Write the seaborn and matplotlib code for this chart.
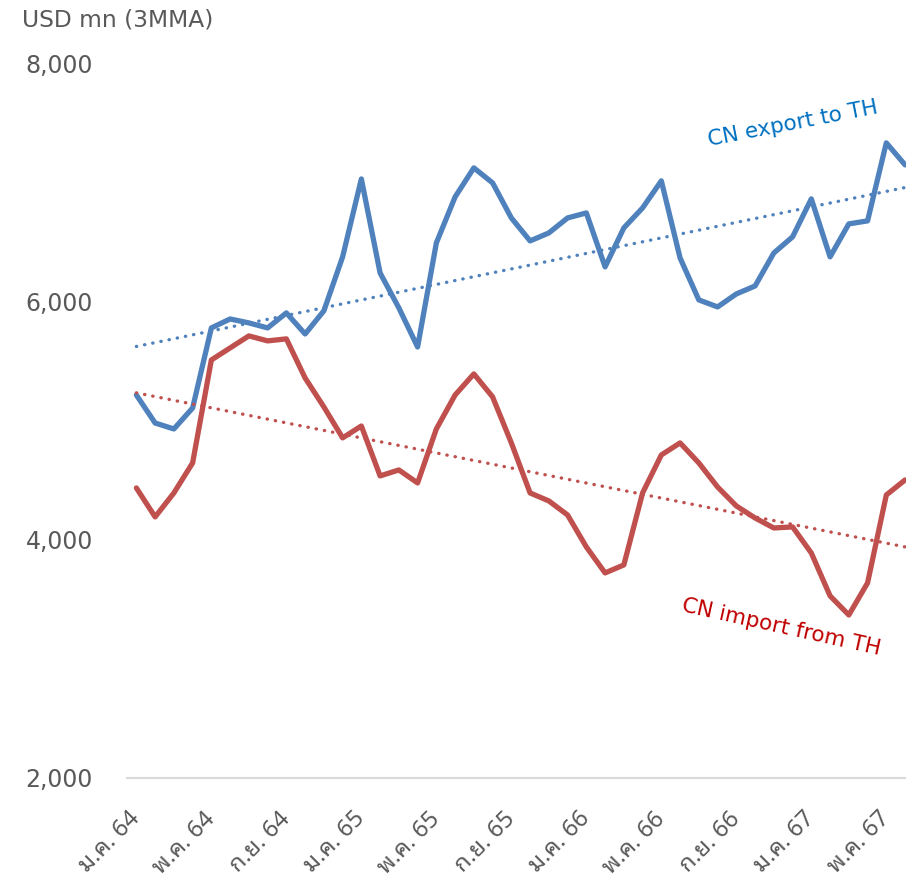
import matplotlib
matplotlib.use("Agg")
import matplotlib.pyplot as plt
import seaborn as sns
import numpy as np
import pandas as pd

# ---- data ----
export_to_th = [5214, 4979, 4929, 5105, 5777, 5852, 5819, 5777, 5903, 5726,
                5920, 6373, 7027, 6238, 5945, 5617, 6490, 6876, 7120, 6994,
                6700, 6507, 6574, 6700, 6742, 6289, 6616, 6784, 7011, 6364,
                6012, 5953, 6062, 6129, 6406, 6541, 6860, 6373, 6650, 6675,
                7330, 7145]
import_from_th = [4434, 4191, 4392, 4644, 5508, 5609, 5710, 5668, 5685, 5357,
                  5114, 4854, 4954, 4535, 4585, 4476, 4929, 5214, 5391, 5198,
                  4812, 4392, 4325, 4207, 3939, 3721, 3788, 4392, 4711, 4812,
                  4644, 4442, 4283, 4182, 4098, 4107, 3888, 3528, 3368, 3637,
                  4375, 4501]
tick_labels = ["ม.ค. 64", "พ.ค. 64", "ก.ย. 64", "ม.ค. 65", "พ.ค. 65", "ก.ย. 65",
               "ม.ค. 66", "พ.ค. 66", "ก.ย. 66", "ม.ค. 67", "พ.ค. 67"]
y_ticks = [2000, 4000, 6000, 8000]

sns.set_theme(style="white")
plt.rcParams["font.family"] = ["DejaVu Sans"]

months = np.arange(len(export_to_th))
df = pd.DataFrame({"m": months, "exp": export_to_th, "imp": import_from_th})

BLUE = "#4F81BD"
RED = "#C0504D"
GRAY = "#595959"

fig = plt.figure(figsize=(9.06, 8.83), dpi=100)
ax = fig.add_axes([127/906, 1-778/883, 1-127/906, (778-63)/883])

sns.lineplot(data=df, x="m", y="exp", ax=ax, color=BLUE, lw=3.8)
sns.lineplot(data=df, x="m", y="imp", ax=ax, color=RED, lw=3.8)
for col, c in (("exp", BLUE), ("imp", RED)):
    sns.regplot(data=df, x="m", y=col, ax=ax, scatter=False, ci=None,
                truncate=True,
                line_kws=dict(color=c, lw=2.4, linestyle=(0, (0.1, 2.4)),
                              dash_capstyle="round"))

ax.set_xlim(-0.5, 41.05)
ax.set_ylim(2000, 8000)
ax.set_xticks(range(0, 41, 4))
ax.set_xticklabels(tick_labels, rotation=45, ha="right", va="center",
                   rotation_mode="anchor", fontsize=17, color=GRAY,
                   family=["Noto Sans Thai Looped", "DejaVu Sans"])
ax.tick_params(axis="x", length=0, pad=27)
ax.set_yticks(y_ticks)
ax.set_yticklabels([f"{v:,}" for v in y_ticks], fontsize=17, color=GRAY)
ax.tick_params(axis="y", length=0, pad=24.5)
ax.set_xlabel("")
ax.set_ylabel("")
for s in ("top", "right", "left"):
    ax.spines[s].set_visible(False)
ax.spines["bottom"].set_color("#D9D9D9")
ax.spines["bottom"].set_linewidth(1.5)

fig.text(22/906, 1-20/883, "USD mn (3MMA)", fontsize=16.8, color=GRAY,
         ha="left", va="center")
ax.text(0.855, 0.915, "CN export to TH", transform=ax.transAxes, color="#0070C0",
        fontsize=15.5, rotation=11, ha="center", va="center")
ax.text(0.8395, 0.211, "CN import from TH", transform=ax.transAxes, color="#C00000",
        fontsize=15.5, rotation=-12.5, ha="center", va="center")

fig.savefig("out.png", dpi=100)
